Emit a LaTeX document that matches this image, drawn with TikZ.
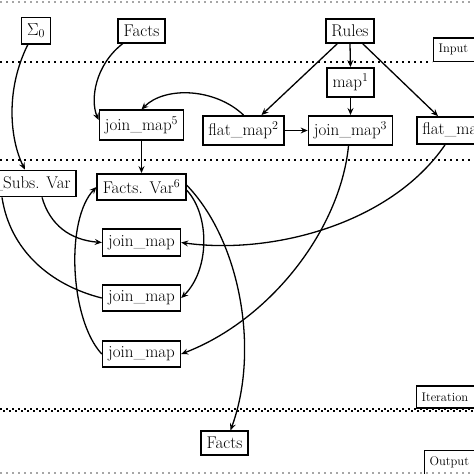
\documentclass[tikz,border=0pt]{standalone}
\usetikzlibrary{arrows.meta,calc}
\begin{document}
\begin{tikzpicture}[x=1pt,y=-1pt,
  box/.style={draw, line width=1.6pt, inner xsep=5.5pt, inner ysep=6pt, font=\fontsize{17}{20}\selectfont},
  lbl/.style={draw, line width=1.6pt, inner xsep=5pt, inner ysep=4pt, text width=60pt, align=left, font=\fontsize{12.5}{15}\selectfont},
  arr/.style={line width=1.3pt, -{Stealth[length=7pt,width=6pt,inset=2.5pt]}},
  ln/.style={line width=1.3pt},
  dotline/.style={line width=2pt, dash pattern=on 2pt off 4pt},
  greydot/.style={dotline, draw=black!35}]
\clip (0,0) rectangle (474,474);
\fill[white] (0,0) rectangle (474,474);
% separators
\draw[greydot] (0,1.5) -- (474,1.5);
\draw[dotline] (0,62) -- (432,62);
\draw[dotline] (0,159.5) -- (474,159.5);
\draw[dotline] (0,408.8) -- (474,408.8);
\draw[dotline, dash phase=3pt] (0,411) -- (474,411);
\draw[greydot] (0,472.5) -- (474,472.5);
% section labels
\node[lbl, anchor=south west, minimum height=23.4pt] (inp) at (432.8,62.2) {Input};
\node[lbl, anchor=south west, minimum height=22pt] (itr) at (415.8,409) {Iteration};
\node[lbl, anchor=north west, minimum height=30pt, text depth=9pt] (outp) at (423.8,449.8) {Output};
% nodes
\node[box] (s0) at (36,30.5) {$\Sigma_0$};
\node[box] (factsT) at (141.5,31) {Facts};
\node[box] (rules) at (350,31) {Rules};
\node[box] (map1) at (350.5,82.5) {map$^1$};
\node[box] (jm5) at (141.5,125) {join\_map$^5$};
\node[box] (flat2) at (243.5,130.5) {flat\_map$^2$};
\node[box] (jm3) at (350.5,130.5) {join\_map$^3$};
\node[box, anchor=west] (flat4) at (416,130.5) {flat\_map};
\node[box, anchor=east] (subs) at (77,183.5) {\_Subs. Var};
\node[box] (fv) at (141.5,187) {Facts. Var$^6$};
\node[box] (jmA) at (141.5,242.5) {join\_map};
\node[box] (jmB) at (141.5,298) {join\_map};
\node[box] (jmC) at (141.5,354) {join\_map};
\node[box] (factsB) at (224.5,443) {Facts};
% connectors
\draw[arr] (s0.240) .. controls (5,90) and (10,140) .. ($(subs.north east)+(-52,0)$);
\draw[arr] (factsT.214) .. controls (95,65) and (90,100) .. ($(jm5.west)+(0,-5)$);
\draw[arr] (flat2.north) .. controls (215,88) and (165,86) .. (jm5.north);
\draw[arr] (rules.225) -- ($(flat2.north)+(18,0)$);
\draw[arr] (rules.south) -- (map1.north);
\draw[arr] (rules.315) -- ($(flat4.north west)+(22,0)$);
\draw[arr] (map1.south) -- (jm3.north);
\draw[arr] (flat2.east) -- (jm3.west);
\draw[arr] (jm5.south) -- (fv.north);
\draw[arr] ($(jm3.south)+(-2,0)$) .. controls (340,230) and (270,320) .. (jmC.east);
\draw[arr] ($(flat4.south west)+(29,0)$) .. controls (390,225) and (270,255) .. (jmA.east);
\draw[arr] ($(fv.east)+(0,-2)$) .. controls (240,240) and (260,350) .. ($(factsB.north)+(6,0)$);
\draw[arr] ($(fv.east)+(0,3)$) .. controls (210,215) and (210,270) .. (jmB.east);
\draw[arr] (jmC.west) .. controls (70,320) and (65,220) .. (fv.west);
\draw[arr] ($(subs.south east)+(-35,0)$) .. controls (50,225) and (70,240) .. (jmA.west);
\draw[ln] ($(subs.south east)+(-75,0)$) .. controls (10,250) and (50,285) .. (jmB.west);
\end{tikzpicture}
\end{document}
